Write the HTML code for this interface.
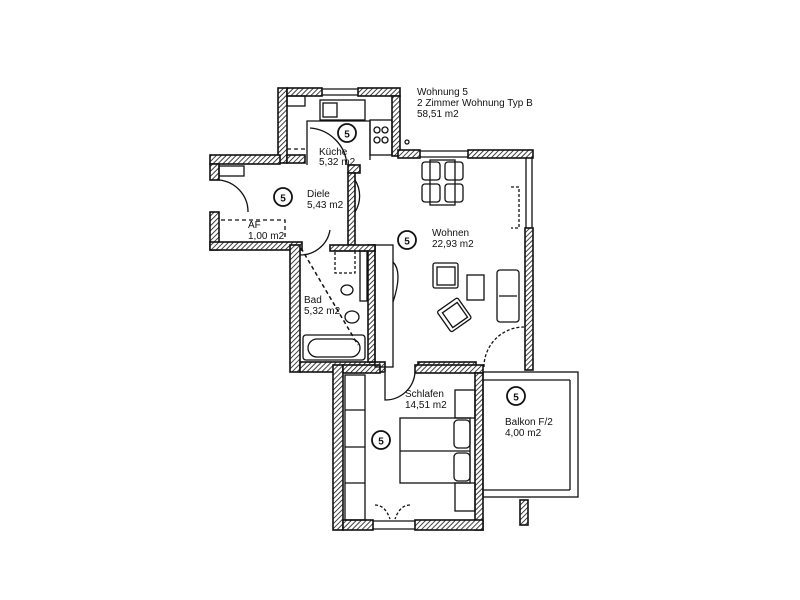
<!DOCTYPE html>
<html><head><meta charset="utf-8"><style>
html,body{margin:0;padding:0;background:#fff;}
svg{display:block}
text{font-family:"Liberation Sans",sans-serif;font-size:10px;fill:#111}
</style></head><body>
<svg width="800" height="600" viewBox="0 0 800 600" xmlns="http://www.w3.org/2000/svg">
<defs>
<pattern id="h" width="3.5" height="3.5" patternUnits="userSpaceOnUse" patternTransform="rotate(45)">
<rect width="4" height="4" fill="#fff"/><line x1="0" y1="0" x2="0" y2="4" stroke="#111" stroke-width="1.6"/>
</pattern>
</defs>
<rect width="800" height="600" fill="#fff"/>
<g fill="url(#h)" stroke="#111" stroke-width="1.6">
<rect x="278" y="88" width="9" height="75"/>
<rect x="287" y="88" width="35" height="8"/>
<rect x="358" y="88" width="42" height="8"/>
<rect x="392" y="96" width="8" height="60"/>
<rect x="287" y="155" width="18" height="8"/>
<rect x="348" y="165" width="12" height="8"/>
<rect x="210" y="155" width="70" height="9"/>
<rect x="210" y="164" width="9" height="16"/>
<rect x="210" y="212" width="9" height="38"/>
<rect x="210" y="242" width="92" height="8"/>
<rect x="348" y="173" width="7" height="72"/>
<rect x="398" y="150" width="22" height="8"/>
<rect x="468" y="150" width="65" height="8"/>
<rect x="525" y="228" width="8" height="142"/>
<rect x="418" y="362" width="58" height="8"/>
<rect x="290" y="245" width="10" height="127"/>
<rect x="300" y="362" width="85" height="10"/>
<rect x="368" y="245" width="7" height="117"/>
<rect x="330" y="245" width="45" height="6"/>
<rect x="333" y="365" width="10" height="165"/>
<rect x="343" y="365" width="37" height="8"/>
<rect x="415" y="365" width="68" height="8"/>
<rect x="475" y="373" width="8" height="157"/>
<rect x="343" y="520" width="30" height="10"/>
<rect x="415" y="520" width="68" height="10"/>
<rect x="520" y="500" width="8" height="25"/>
</g>
<g fill="none" stroke="#111" stroke-width="1.3">
<line x1="322" y1="89" x2="358" y2="89"/><line x1="322" y1="95" x2="358" y2="95"/>
<line x1="420" y1="151" x2="468" y2="151"/><line x1="420" y1="157" x2="468" y2="157"/>
<line x1="526" y1="158" x2="526" y2="228"/><line x1="532" y1="158" x2="532" y2="228"/>
<line x1="373" y1="521" x2="415" y2="521"/><line x1="373" y1="529" x2="415" y2="529"/>
<rect x="483" y="372" width="95" height="125"/>
<line x1="483" y1="380" x2="570" y2="380"/><line x1="570" y1="380" x2="570" y2="490"/><line x1="483" y1="490" x2="570" y2="490"/>
<rect x="287" y="96" width="18" height="10"/>
<rect x="320" y="100" width="45" height="20"/>
<rect x="323" y="103" width="14" height="14"/>
<rect x="370" y="120" width="22" height="35"/>
<circle cx="377" cy="130" r="3"/><circle cx="385" cy="130" r="3"/><circle cx="377" cy="140" r="3"/><circle cx="385" cy="140" r="3"/>
<polyline points="307,165 307,121 370,121 370,160"/>
<path d="M347,165 A40,40 0 0 0 310,128"/>
<line x1="287" y1="149" x2="305" y2="149" stroke-dasharray="4,3"/>
<circle cx="407" cy="142" r="2"/>
<rect x="219" y="166" width="25" height="10"/>
<path d="M219,180 A32,32 0 0 1 248,212"/>
<path d="M355,180 A30,30 0 0 1 355,212"/>
<path d="M300,255 A30,30 0 0 0 330,230"/>
<polyline points="221,220 285,220 285,240" stroke-dasharray="4,3"/>
<line x1="301" y1="248" x2="358" y2="345" stroke-dasharray="4,3" stroke-width="1.5"/>
<rect x="303" y="335" width="62" height="25" rx="3"/>
<rect x="308" y="339" width="52" height="18" rx="9"/>
<ellipse cx="347" cy="290" rx="6" ry="5"/>
<ellipse cx="352" cy="317" rx="7" ry="6"/>
<rect x="335" y="251" width="20" height="22" stroke-dasharray="3,2"/>
<rect x="360" y="251" width="7" height="50"/>
<rect x="375" y="245" width="18" height="122"/>
<path d="M393,262 q10,10 0,40"/>
<rect x="422" y="162" width="18" height="18" rx="3"/><rect x="445" y="162" width="18" height="18" rx="3"/>
<rect x="422" y="184" width="18" height="18" rx="3"/><rect x="445" y="184" width="18" height="18" rx="3"/>
<rect x="430" y="160" width="25" height="45"/>
<rect x="433" y="263" width="25" height="25" rx="2"/><rect x="437" y="267" width="18" height="18"/>
<rect x="467" y="275" width="17" height="25"/>
<rect x="497" y="270" width="22" height="52" rx="3"/><line x1="499" y1="296" x2="517" y2="296"/>
<g transform="rotate(-35 455 315)"><rect x="442" y="302" width="25" height="25" rx="2"/><rect x="446" y="306" width="18" height="18"/></g>
<path d="M484,367 A40,40 0 0 1 524,327" stroke-dasharray="3,2"/>
<polyline points="511,187 519,187 519,228 511,228" stroke-dasharray="3,2"/>
<rect x="345" y="375" width="20" height="145"/>
<line x1="345" y1="410" x2="365" y2="410"/><line x1="345" y1="447" x2="365" y2="447"/><line x1="345" y1="483" x2="365" y2="483"/>
<path d="M385,373 L385,400 A30,30 0 0 0 415,373"/>
<rect x="400" y="418" width="70" height="65"/>
<line x1="400" y1="451" x2="470" y2="451"/>
<rect x="454" y="420" width="16" height="28" rx="4"/><rect x="454" y="453" width="16" height="28" rx="4"/>
<rect x="455" y="390" width="20" height="28"/><rect x="455" y="483" width="20" height="28"/>
<path d="M375,505 q10,0 15,14 M410,505 q-10,0 -15,14" stroke-dasharray="3,2"/>
</g>
<g fill="#fff" stroke="#111" stroke-width="1.8">
<circle cx="347" cy="133" r="9"/><circle cx="283" cy="197" r="9"/><circle cx="407" cy="240" r="9"/>
<circle cx="381" cy="440" r="9"/><circle cx="516" cy="396" r="9"/>
</g>
<g style="font-weight:bold;font-size:12px" text-anchor="middle">
<text x="347" y="137.5">5</text><text x="283" y="201.5">5</text><text x="407" y="244.5">5</text><text x="381" y="444.5">5</text><text x="516" y="400.5">5</text>
</g>
<text x="417" y="95">Wohnung 5</text>
<text x="417" y="106">2 Zimmer Wohnung Typ B</text>
<text x="417" y="117">58,51 m2</text>
<text x="319" y="155">Küche</text><text x="319" y="165">5,32 m2</text>
<text x="307" y="197">Diele</text><text x="307" y="208">5,43 m2</text>
<text x="248" y="228">AF</text><text x="248" y="239">1,00 m2</text>
<text x="432" y="236">Wohnen</text><text x="432" y="247">22,93 m2</text>
<text x="304" y="303">Bad</text><text x="304" y="314">5,32 m2</text>
<text x="405" y="397">Schlafen</text><text x="405" y="408">14,51 m2</text>
<text x="505" y="425">Balkon F/2</text><text x="505" y="436">4,00 m2</text>
</svg>
</body></html>
